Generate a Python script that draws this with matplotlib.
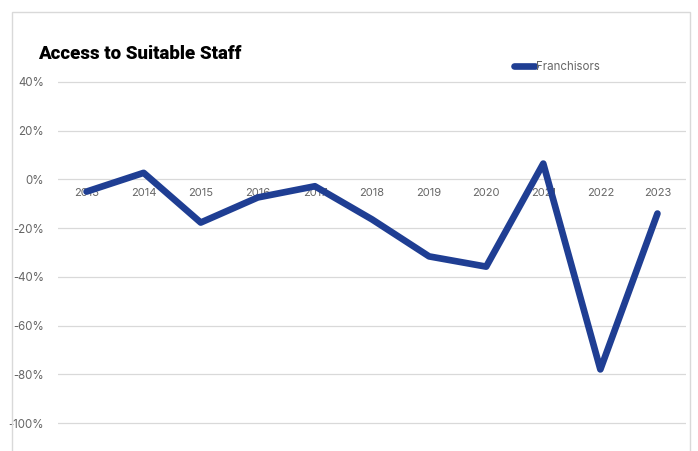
import matplotlib
matplotlib.use("Agg")
import matplotlib.pyplot as plt
import matplotlib.transforms as mtransforms
from matplotlib.patches import Rectangle
from matplotlib.ticker import FuncFormatter

years = ["2013", "2014", "2015", "2016", "2017", "2018", "2019", "2020", "2021", "2022", "2023"]
franchisors = [-5, 2.7, -17.7, -7.4, -2.8, -16.4, -31.6, -35.8, 6.5, -78, -14]
y_ticks = [40, 20, 0, -20, -40, -60, -80, -100]

W, H = 698, 451
fig = plt.figure(figsize=(W / 100, H / 100), dpi=100)
fig.patch.set_facecolor("white")

# outer chart border
fig.patches.append(Rectangle((12 / W, -0.05), (690 - 12) / W, 1 - 12 / H + 0.05,
                             transform=fig.transFigure, fill=False,
                             edgecolor="#d9d9d9", linewidth=1.0))

ppu = (423 - 82) / 140.0
left, right = 58 / W, 686 / W
top, bottom = 1 - (82 - ppu) / H, 1 - (423 + ppu) / H
ax = fig.add_axes([left, bottom, right - left, top - bottom])
ax.set_facecolor("none")

x = list(range(len(years)))
ax.plot(x, franchisors, color="#1f3e93", linewidth=4.8,
        solid_capstyle="round", solid_joinstyle="round", label="Franchisors", zorder=3)

ax.set_xlim(-0.5, len(years) - 0.5)
ax.set_ylim(-101, 41)
ax.set_yticks(y_ticks)
ax.yaxis.set_major_formatter(FuncFormatter(lambda v, p: f"{int(v)}%"))
ax.tick_params(axis="y", length=0, pad=10, labelsize=8.3, labelcolor="#666666")
for lab in ax.get_yticklabels():
    lab.set_fontfamily("Inter")
ax.set_xticks([])
ax.grid(axis="y", color="#d9d9d9", linewidth=0.9)
ax.set_axisbelow(True)
for s in ax.spines.values():
    s.set_visible(False)

# category labels sitting just below the zero line
trans = mtransforms.blended_transform_factory(ax.transData, ax.transData)
off = mtransforms.ScaledTranslation(0, -9 / 100, fig.dpi_scale_trans)
for xi, yr in zip(x, years):
    ax.text(xi, 0, yr, transform=trans + off, ha="center", va="top",
            fontsize=8.0, color="#666666", family="Inter", zorder=2)

fig.text(38 / W, 1 - 54 / H, "Access to Suitable Staff", fontsize=13.4,
         fontweight="black", family="Roboto", color="black", va="center", ha="left")

leg = ax.legend(loc="center left", bbox_to_anchor=(514 / W, 1 - 67 / H),
                bbox_transform=fig.transFigure, frameon=False, fontsize=8.3,
                handlelength=1.8, handletextpad=0.1, borderpad=0, borderaxespad=0)
for t in leg.get_texts():
    t.set_color("#666666")
    t.set_fontfamily("Inter")

fig.savefig("out.png", dpi=100)
